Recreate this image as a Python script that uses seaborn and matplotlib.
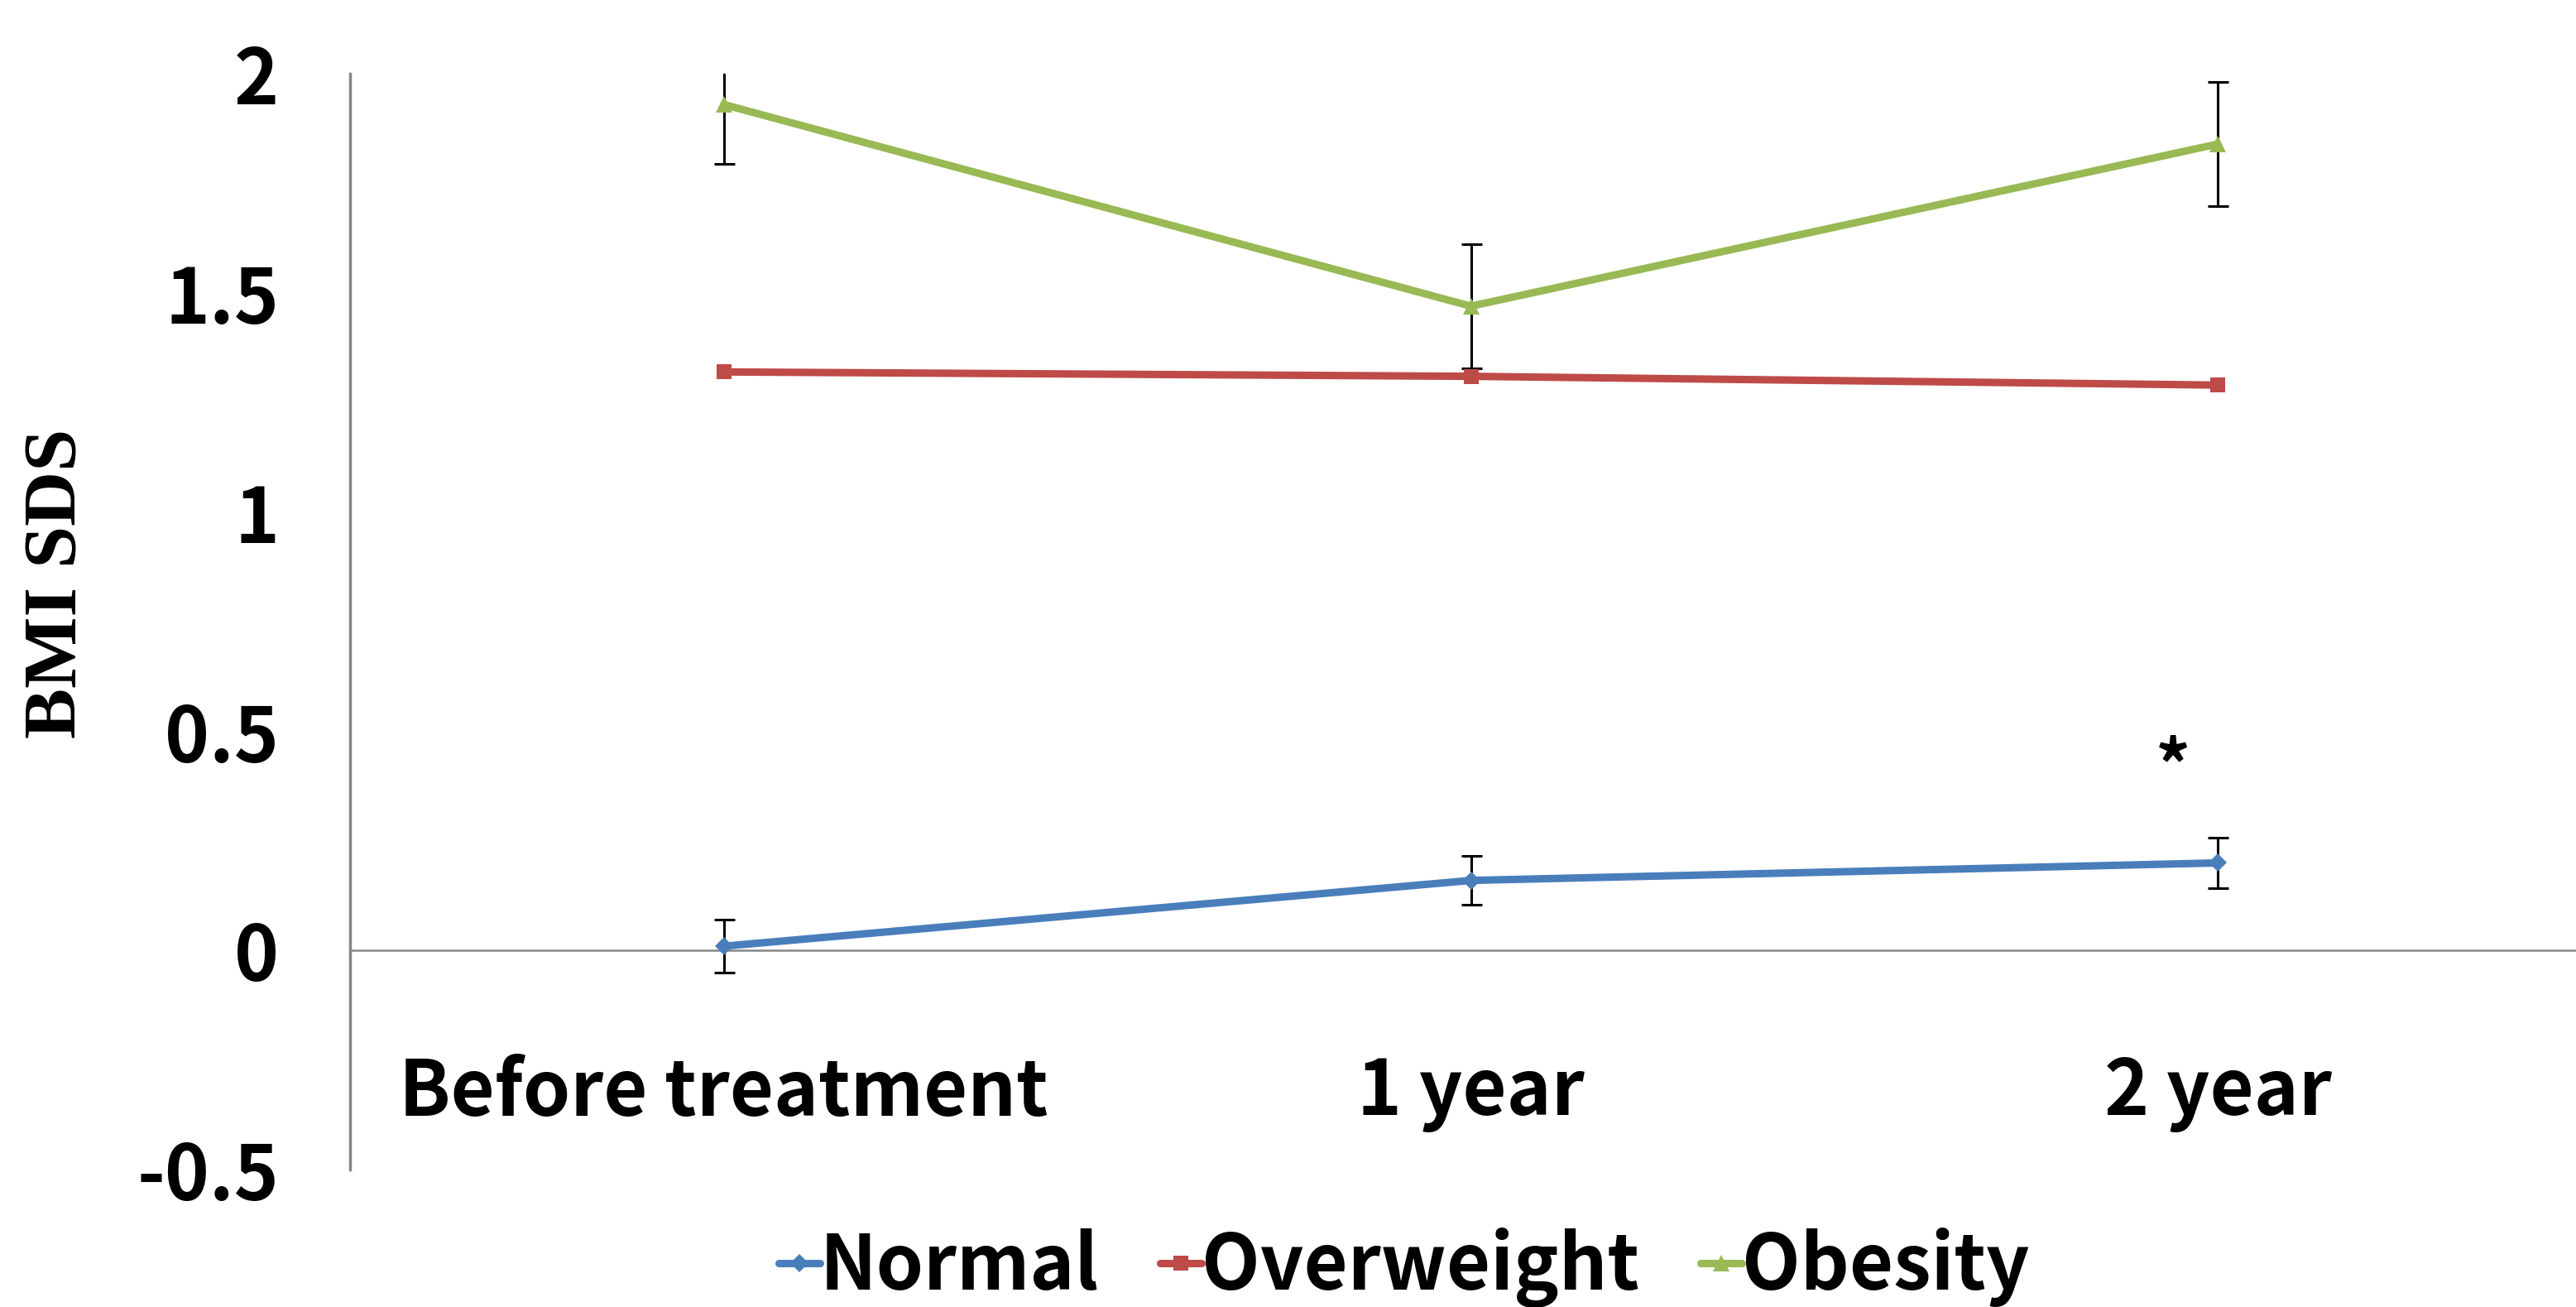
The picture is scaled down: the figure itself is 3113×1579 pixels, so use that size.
import matplotlib
matplotlib.use("Agg")
import matplotlib.pyplot as plt
import seaborn as sns
import pandas as pd

# Values
timepoints = ["Before treatment", "1 year", "2 year"]
groups = ["Normal", "Overweight", "Obesity"]
normal = [0.01, 0.16, 0.20]
overweight = [1.32, 1.31, 1.29]
obesity = [1.93, 1.47, 1.84]
normal_err = [0.06, 0.056, 0.058]
obesity_err = [0.135, 0.142, 0.141]
y_ticks = [-0.5, 0, 0.5, 1, 1.5, 2]
y_tick_labels = ["-0.5", "0", "0.5", "1", "1.5", "2"]

colors = {"Normal": "#4A7EBB", "Overweight": "#BE4B48", "Obesity": "#98B954"}
markers = {"Normal": "D", "Overweight": "s", "Obesity": "^"}
msizes = {"Normal": 11, "Overweight": 13, "Obesity": 14}

df = pd.DataFrame({
    "time": timepoints * 3,
    "group": [g for g in groups for _ in timepoints],
    "bmi": normal + overweight + obesity,
})

sns.set_style("white")
plt.rcParams['font.family'] = ['Noto Sans CJK KR', 'DejaVu Sans']
plt.rcParams.update({'text.color': 'black', 'xtick.color': 'black',
                     'ytick.color': 'black', 'axes.labelcolor': 'black'})

fig = plt.figure(figsize=(31.13, 15.79), dpi=100)
ax = fig.add_axes([0.136, 0.105, 0.87, 0.8385])

# zero line across the whole plot
ax.axhline(0, color="#868686", lw=1.8, zorder=1)

# error bars (drawn first so markers sit on top)
x_pos = list(range(len(timepoints)))
ax.errorbar(x_pos, normal, yerr=normal_err, fmt="none", ecolor="black",
            elinewidth=2.2, capsize=9, capthick=2.2, zorder=2)
ax.errorbar(x_pos, obesity, yerr=obesity_err, fmt="none", ecolor="black",
            elinewidth=2.2, capsize=9, capthick=2.2, zorder=2)

for g in groups:
    sub = df[df["group"] == g]
    sns.lineplot(data=sub, x="time", y="bmi", ax=ax, color=colors[g],
                 marker=markers[g], markersize=msizes[g], markeredgewidth=0,
                 lw=6.5, label=g, sort=False, zorder=3)

ax.text(1.94, 0.41, "*", fontsize=60, fontweight="bold", ha="center", va="center")

ax.set_xlim(-0.5, 2.5)
ax.set_ylim(-0.5, 2)
ax.set_yticks(y_ticks)
ax.set_yticklabels(y_tick_labels)
ax.set_xticks(x_pos)
ax.set_xticklabels(timepoints)
for lbl in ax.get_xticklabels() + ax.get_yticklabels():
    lbl.set_fontweight(900)
ax.tick_params(axis="y", length=0, labelsize=66, pad=62)
ax.tick_params(axis="x", length=0, labelsize=66, pad=-100)

ax.set_xlabel("")
ax.set_ylabel("BMI SDS", fontsize=66, fontweight="bold", family="Liberation Serif")
ax.yaxis.set_label_coords(-0.1156, 0.535)

for s in ["top", "right", "bottom"]:
    ax.spines[s].set_visible(False)
ax.spines["left"].set_color("#868686")
ax.spines["left"].set_linewidth(2.5)

ax.legend_.remove()
handles, labels = ax.get_legend_handles_labels()
leg = fig.legend(handles, labels, loc="center", bbox_to_anchor=(0.545, 0.03), ncol=3,
                 frameon=False, handlelength=0.55, handletextpad=0.0, columnspacing=0.8,
                 prop={"family": "Noto Sans CJK KR", "weight": 900, "size": 66})

fig.savefig("out.png", dpi=100)
